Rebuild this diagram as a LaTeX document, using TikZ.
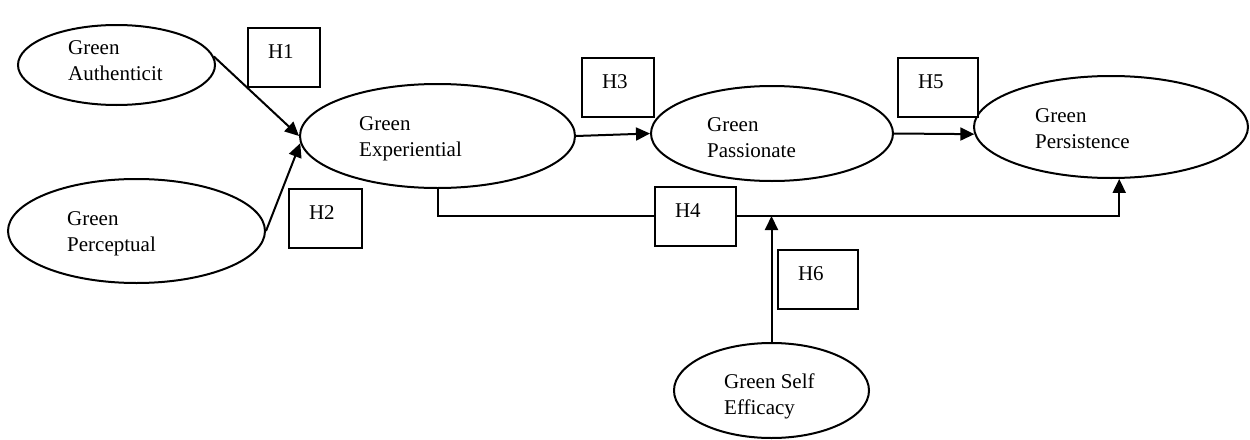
\documentclass[tikz,border=0pt]{standalone}
\usepackage{fontspec}
\setmainfont{Liberation Serif}
\usetikzlibrary{arrows.meta, shapes.geometric}
\tikzset{
	every node/.style= {
		font=\fontsize{21}{26}\selectfont
	},
	construct/.style= {
		ellipse,
		draw,
		line width=2pt,
		inner sep=0pt
	},
	vartext/.style= {
		anchor=base west,
		align=left,
		inner sep=0pt
	},
	hyp/.style= {
		rectangle,
		draw,
		fill=white,
		line width=2pt,
		anchor=north west,
		align=left,
		inner xsep=20pt,
		inner ysep=0pt,
		text height=30pt,
		text depth=29pt,
		text width=#1
	},
	hyp/.default=32pt,
	path/.style= {
		line width=2pt,
		-{Triangle[length=14pt, width=13pt]}
	}
}

\begin{document}
\begin{tikzpicture}[x=1pt, y=-1pt]
	\useasboundingbox (0,0) rectangle (1250,439);

	\node (auth)[construct, minimum width=197pt, minimum height=80pt] at (116.5,65) {};
	\node (perc)[construct, minimum width=257pt, minimum height=104pt] at (136.5,231) {};
	\node (exp)[construct, minimum width=275pt, minimum height=104pt] at (437.5,136) {};
	\node (pass)[construct, minimum width=242pt, minimum height=95pt] at (772,133.5) {};
	\node (pers)[construct, minimum width=274pt, minimum height=102pt] at (1111,127) {};
	\node (eff)[construct, minimum width=195pt, minimum height=95pt] at (771.5,390.5) {};

	% base is the last line
	\node (authtext)[vartext] at (68,80) {Green\\Authenticit};
	\node (perctext)[vartext] at (67,251) {Green\\Perceptual};
	\node (exptext)[vartext] at (359,156) {Green\\Experiential};
	\node (passtext)[vartext] at (707,157) {Green\\Passionate};
	\node (perstext)[vartext] at (1035,148) {Green\\Persistence};
	\node (efftext)[vartext] at (724,414) {Green Self\\Efficacy};

	\draw[path] (auth.5) to (exp.west);
	\draw[path] (perc.east) to (exp.183);
	\draw[path] (exp.east) to (pass.west);
	\draw[path] (pass.east) to (pers.183);

	\coordinate (join) at (771.5,216);
	\draw[path] (exp.south) |- (join) -| (pers.-81);
	\draw[path] (eff.north) to (join);

	\foreach \n/\x/\y/\w in {1/247/27/32, 2/288/188/33, 3/581/57/32, 4/654/186/41, 5/897/57/40, 6/777/249/40}
	{
		\node (h\n)[hyp=\w pt] at (\x,\y) {H\n};
	}
\end{tikzpicture}
\end{document}
